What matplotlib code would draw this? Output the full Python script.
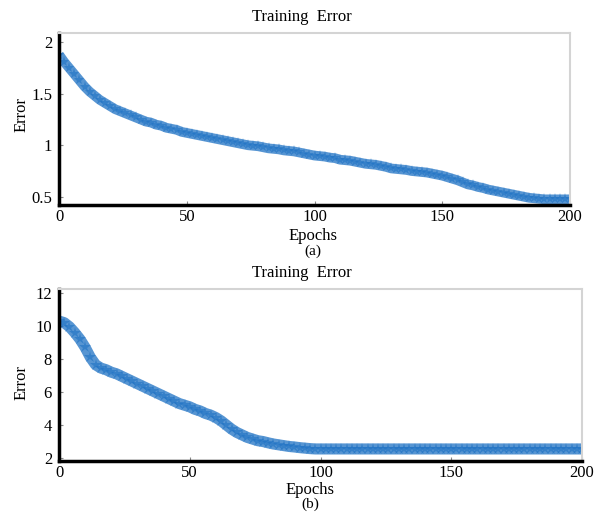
import numpy as np
import matplotlib.pyplot as plt

plt.rcParams['font.family'] = ['Liberation Serif', 'DejaVu Serif']

# ----- data (every 2 epochs) -----
epochs = np.arange(0, 201, 2)

err_a = [1.88, 1.81, 1.75, 1.69, 1.63, 1.57, 1.52, 1.48, 1.44, 1.41,
         1.38, 1.35, 1.33, 1.31, 1.29, 1.27, 1.25, 1.23, 1.22, 1.20,
         1.19, 1.17, 1.16, 1.15, 1.13, 1.12, 1.11, 1.10, 1.09, 1.08,
         1.07, 1.06, 1.05, 1.04, 1.03, 1.02, 1.01, 1.00, 0.995, 0.99,
         0.98, 0.97, 0.965, 0.96, 0.95, 0.945, 0.94, 0.93, 0.92, 0.91,
         0.90, 0.895, 0.89, 0.88, 0.875, 0.86, 0.855, 0.85, 0.84, 0.83,
         0.82, 0.815, 0.81, 0.80, 0.79, 0.775, 0.77, 0.765, 0.76, 0.75,
         0.745, 0.74, 0.735, 0.725, 0.715, 0.705, 0.69, 0.675, 0.66, 0.64,
         0.62, 0.61, 0.595, 0.585, 0.57, 0.56, 0.55, 0.54, 0.53, 0.52,
         0.51, 0.50, 0.49, 0.485, 0.48, 0.475, 0.475, 0.475, 0.475, 0.475,
         0.475]

err_b = [10.3, 10.2, 9.95, 9.6, 9.2, 8.7, 8.1, 7.65, 7.45, 7.35,
         7.2, 7.1, 6.95, 6.8, 6.65, 6.5, 6.35, 6.2, 6.05, 5.9,
         5.75, 5.6, 5.45, 5.3, 5.2, 5.1, 4.95, 4.85, 4.7, 4.6,
         4.45, 4.25, 4.0, 3.75, 3.55, 3.4, 3.25, 3.15, 3.05, 3.0,
         2.92, 2.85, 2.8, 2.75, 2.7, 2.67, 2.63, 2.6, 2.57, 2.55] + [2.55] * 51

xticks = [0, 50, 100, 150, 200]
yticks_a = [0.5, 1, 1.5, 2]
yticks_b = [2, 4, 6, 8, 10, 12]

W, H = 596, 512
fig = plt.figure(figsize=(W / 100, H / 100), dpi=100)

def px(x, y):
    return x / W, 1 - y / H

blue = '#1f72c4'
fs = 12

def style(ax):
    for s in ['top', 'right']:
        ax.spines[s].set_color('#d4d4d4')
        ax.spines[s].set_linewidth(1.5)
    for s in ['left', 'bottom']:
        ax.spines[s].set_color('black')
        ax.spines[s].set_linewidth(2.5)
    ax.tick_params(direction='in', length=3, color='#888888', labelsize=fs, pad=5)
    ax.tick_params(axis='x', pad=3)
    ax.set_xticks(xticks)
    ax.set_xlim(0, 200)

def band(ax, y, lw, ms):
    # thick fuzzy band of star markers
    ax.plot(epochs, y, color=blue, lw=lw, alpha=0.75, solid_capstyle='butt')
    ax.plot(epochs, y, linestyle='none', marker='*', markersize=ms,
            color=blue, alpha=0.6, markeredgewidth=0)

# ----- (a) -----
ax1 = fig.add_axes([59 / W, 1 - 205 / H, 511 / W, 172 / H])
band(ax1, err_a, 7, 8)
style(ax1)
ax1.set_ylim(0.42, 2.09)
ax1.set_yticks(yticks_a)
ax1.set_yticklabels(['0.5', '1', '1.5', '2'])

# ----- (b) -----
ax2 = fig.add_axes([59 / W, 1 - 461 / H, 523 / W, 172 / H])
band(ax2, err_b, 8, 9)
style(ax2)
ax2.set_ylim(1.82, 12.24)
ax2.set_yticks(yticks_b)

# ----- text -----
for (tx, ty), s, f in [((302, 17), 'Training  Error', fs), ((302, 273), 'Training  Error', fs),
                       ((313, 236), 'Epochs', fs), ((313, 251), '(a)', 11),
                       ((310, 490), 'Epochs', fs), ((310, 504), '(b)', 11)]:
    fig.text(*px(tx, ty), s, ha='center', va='center', fontsize=f)
fig.text(*px(22, 115), 'Error', rotation=90, ha='center', va='center', fontsize=fs)
fig.text(*px(22, 383), 'Error', rotation=90, ha='center', va='center', fontsize=fs)

fig.savefig('out.png', dpi=100)
